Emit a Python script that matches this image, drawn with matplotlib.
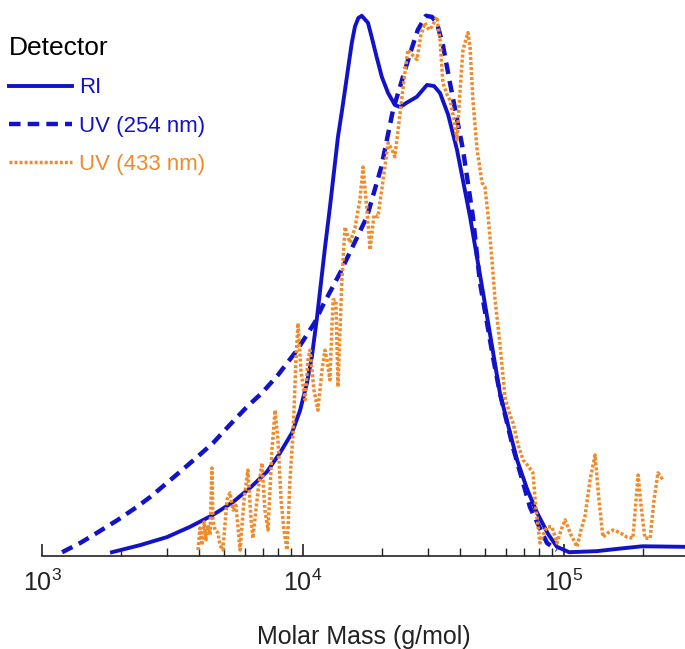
import numpy as np
import matplotlib
matplotlib.use("Agg")
import matplotlib.pyplot as plt
from matplotlib.ticker import LogLocator, NullFormatter

plt.rcParams['font.family'] = ['Liberation Sans', 'DejaVu Sans']
plt.rcParams['mathtext.fontset'] = 'custom'
plt.rcParams['mathtext.rm'] = 'Liberation Sans'

# log10 of molar mass (g/mol) and normalised signal
ri_logm = [3.268, 3.375, 3.479, 3.567, 3.655, 3.732, 3.797, 3.862, 3.912, 3.958,
           3.989, 4.015, 4.034, 4.054, 4.084, 4.103, 4.134, 4.148, 4.161, 4.174,
           4.187, 4.199, 4.212, 4.225, 4.249, 4.263, 4.282, 4.302, 4.326, 4.352,
           4.372, 4.397, 4.436, 4.475, 4.502, 4.525, 4.556, 4.59, 4.64, 4.69,
           4.755, 4.82, 4.86, 4.897, 4.94, 4.973, 5.02, 5.126, 5.22, 5.30, 5.46]
ri_val = [0.007, 0.020, 0.035, 0.054, 0.076, 0.100, 0.126, 0.156, 0.191, 0.228,
          0.270, 0.320, 0.369, 0.443, 0.57, 0.645, 0.776, 0.820, 0.863, 0.907,
          0.950, 0.980, 0.996, 1.0, 0.987, 0.961, 0.924, 0.887, 0.857, 0.835,
          0.831, 0.839, 0.850, 0.872, 0.870, 0.857, 0.817, 0.752, 0.628, 0.487,
          0.30, 0.178, 0.122, 0.08, 0.040, 0.017, 0.007, 0.009, 0.014, 0.018, 0.017]

uv254_logm = [3.077, 3.146, 3.211, 3.291, 3.364, 3.414, 3.483, 3.529, 3.594, 3.655,
              3.720, 3.785, 3.843, 3.904, 3.977, 4.046, 4.073, 4.142, 4.245, 4.300,
              4.345, 4.41, 4.44, 4.471, 4.494, 4.513, 4.536, 4.563, 4.613, 4.651,
              4.678, 4.728, 4.755, 4.805, 4.87, 4.935, 4.973]
uv254_val = [0.007, 0.024, 0.043, 0.067, 0.091, 0.109, 0.137, 0.156, 0.183, 0.209,
             0.243, 0.276, 0.302, 0.335, 0.381, 0.433, 0.461, 0.524, 0.628, 0.720,
             0.826, 0.93, 0.974, 1.0, 0.998, 0.987, 0.946, 0.876, 0.752, 0.628,
             0.506, 0.368, 0.30, 0.20, 0.09, 0.024, 0.011]

uv433_logm = [3.598, 3.605, 3.613, 3.621, 3.628, 3.636, 3.644, 3.651, 3.655, 3.663,
              3.674, 3.682, 3.693, 3.709, 3.720, 3.732, 3.743, 3.759, 3.774, 3.789,
              3.801, 3.808, 3.828, 3.843, 3.854, 3.866, 3.881, 3.893, 3.904, 3.916,
              3.927, 3.939, 3.950, 3.962, 3.973, 3.981, 3.992, 4.008, 4.019, 4.027,
              4.042, 4.057, 4.073, 4.084, 4.092, 4.103, 4.115, 4.126, 4.134, 4.149,
              4.161, 4.180, 4.199, 4.218, 4.230, 4.245, 4.257, 4.272, 4.287, 4.307,
              4.326, 4.341, 4.352, 4.372, 4.387, 4.402, 4.418, 4.437, 4.452, 4.467,
              4.483, 4.494, 4.513, 4.525, 4.536, 4.552, 4.563, 4.579, 4.590, 4.602,
              4.613, 4.632, 4.640, 4.651, 4.667, 4.686, 4.697, 4.709, 4.724, 4.736,
              4.755, 4.774, 4.793, 4.805, 4.824, 4.843, 4.862, 4.881, 4.893, 4.908,
              4.920, 4.935, 4.954, 4.973, 4.989, 5.004, 5.027, 5.050, 5.065, 5.080,
              5.100, 5.119, 5.134, 5.149, 5.169, 5.188, 5.215, 5.241, 5.264, 5.284,
              5.295, 5.310, 5.330, 5.345, 5.360, 5.379]
uv433_val = [0.011, 0.052, 0.020, 0.063, 0.030, 0.057, 0.039, 0.163, 0.067, 0.048,
             0.043, 0.020, 0.011, 0.104, 0.117, 0.085, 0.094, 0.011, 0.104, 0.159,
             0.067, 0.033, 0.122, 0.172, 0.085, 0.048, 0.196, 0.270, 0.215, 0.104,
             0.048, 0.011, 0.141, 0.228, 0.363, 0.431, 0.344, 0.289, 0.363, 0.381,
             0.307, 0.270, 0.344, 0.381, 0.363, 0.326, 0.474, 0.474, 0.313, 0.511,
             0.609, 0.580, 0.607, 0.659, 0.720, 0.641, 0.567, 0.631, 0.628, 0.696,
             0.765, 0.752, 0.739, 0.820, 0.881, 0.937, 0.928, 0.919, 0.965, 0.987,
             0.974, 0.980, 0.998, 0.956, 0.876, 0.854, 0.844, 0.807, 0.770, 0.863,
             0.937, 0.969, 0.943, 0.844, 0.752, 0.691, 0.683, 0.631, 0.548, 0.474,
             0.391, 0.294, 0.261, 0.246, 0.206, 0.178, 0.167, 0.154, 0.085, 0.024,
             0.039, 0.054, 0.054, 0.024, 0.048, 0.067, 0.039, 0.017, 0.048, 0.072,
             0.141, 0.187, 0.104, 0.035, 0.043, 0.048, 0.043, 0.035, 0.033, 0.150,
             0.094, 0.033, 0.033, 0.104, 0.154, 0.141]

labels = ['RI', 'UV (254 nm)', 'UV (433 nm)']
blue = '#1212c8'
orange = '#f08a2a'

fig = plt.figure(figsize=(6.85, 6.49), dpi=100)
ax = fig.add_axes([42/685, 93/649, 643/685, 551/649])

ax.plot(10**np.array(ri_logm), ri_val, color=blue, lw=2.8, label=labels[0],
        solid_joinstyle='round')
ax.plot(10**np.array(uv254_logm), uv254_val, color=blue, lw=3.2,
        linestyle=(0, (2.6, 1.6)), label=labels[1])
ax.plot(10**np.array(uv433_logm), uv433_val, color=orange, lw=2.5,
        linestyle=(0, (0.85, 0.6)), label=labels[2])

ax.set_xscale('log')
ax.set_xlim(1e3, 10**5.4636)
ax.set_ylim(0, 1.02)
ax.set_yticks([])
for s in ['left', 'right', 'top']:
    ax.spines[s].set_visible(False)
ax.spines['bottom'].set_linewidth(1.2)
ax.spines['bottom'].set_color('#222222')

ax.xaxis.set_major_locator(LogLocator(base=10, numticks=10))
ax.xaxis.set_minor_locator(LogLocator(base=10, subs=np.arange(2, 10), numticks=20))
ax.xaxis.set_minor_formatter(NullFormatter())
ax.tick_params(axis='x', which='major', direction='in', length=9, width=1.2,
               labelsize=18, pad=10, colors='#222222')
ax.tick_params(axis='x', which='minor', direction='in', length=6, width=1.0,
               colors='#222222')
ax.set_xlabel('Molar Mass (g/mol)', fontsize=18, labelpad=21, color='#222222')

leg = ax.legend(loc='upper left', bbox_to_anchor=(9/685, 1 - 36/649),
                bbox_transform=fig.transFigure, frameon=False, title='Detector',
                fontsize=16, title_fontsize=19, alignment='left',
                handlelength=2.85, handletextpad=0.3, labelspacing=0.78,
                borderpad=0, borderaxespad=0, labelcolor='linecolor')

fig.savefig('out.png', dpi=100)
